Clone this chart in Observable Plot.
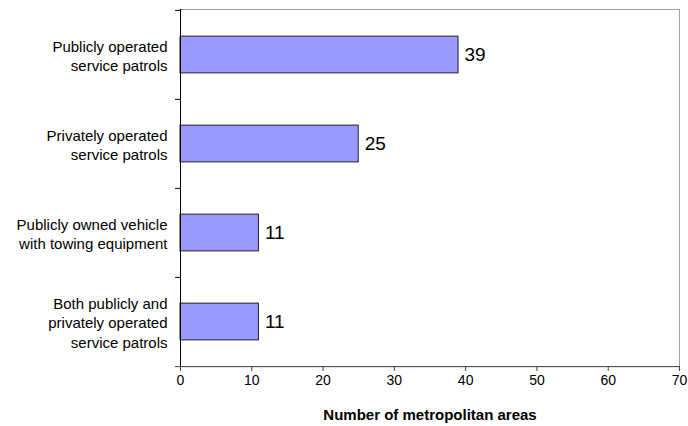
<!DOCTYPE html>
<html>
<head>
<meta charset="utf-8">
<script src="https://cdn.jsdelivr.net/npm/d3@7"></script>
<script src="https://cdn.jsdelivr.net/npm/@observablehq/plot@0.6"></script>
<style>
  html, body { margin: 0; padding: 0; background: #fff; }
  #chart { width: 688px; height: 426px; }
</style>
</head>
<body>
<div id="chart"></div>
<script>
const categories = [
  "Publicly operated\nservice patrols",
  "Privately operated\nservice patrols",
  "Publicly owned vehicle\nwith towing equipment",
  "Both publicly and\nprivately operated\nservice patrols"
];
const values = [39, 25, 11, 11];
const xTicks = [0, 10, 20, 30, 40, 50, 60, 70];
const xLabel = "Number of metropolitan areas";

const data = categories.map((c, i) => ({category: c, value: values[i]}));

const width = 688, height = 426;
const marginTop = 9, marginBottom = 60, marginLeft = 180, marginRight = 9;
const bw = (height - marginTop - marginBottom) / categories.length;
const barH = 37;
const inset = (bw - barH) / 2;

const chart = Plot.plot({
  width, height, marginTop, marginBottom, marginLeft, marginRight,
  style: {fontFamily: "'Liberation Sans', Arial, sans-serif", background: "#fff", color: "#000"},
  x: {domain: [0, 70], ticks: xTicks, label: null},
  y: {domain: categories, padding: 0, label: null},
  marks: [
    Plot.frame({stroke: "#a0a0a0"}),
    Plot.rectX(data, {x: "value", y: "category", fill: "#9999ff", stroke: "#222", strokeWidth: 1, insetTop: inset, insetBottom: inset}),
    Plot.text(data, {x: "value", y: "category", text: d => String(d.value), dx: 6, textAnchor: "start", fontSize: 19, fill: "#000"}),
    Plot.text(data, {y: "category", text: "category", frameAnchor: "left", dx: -13, textAnchor: "end", fontSize: 15, lineHeight: 1.3, fill: "#000"}),
    Plot.axisX({ticks: xTicks, tickSize: 5, tickPadding: 4, fontSize: 14, stroke: "#444", label: null, fill: "#000"}),
    Plot.axisY({ticks: categories, tickSize: 5, dy: -bw / 2, text: null, stroke: "#000", label: null}),
    Plot.axisY({ticks: [categories[categories.length - 1]], tickSize: 5, dy: bw / 2, text: null, stroke: "#444", label: null}),
    Plot.ruleY([0], {y: () => categories[categories.length - 1], dy: bw / 2, stroke: "#444"}),
    Plot.ruleX([0], {stroke: "#000"}),
    Plot.text([xLabel], {text: d => d, frameAnchor: "bottom", dy: 53, fontSize: 15, fontWeight: "bold", fill: "#000"})
  ]
});
document.getElementById("chart").appendChild(chart);
</script>
</body>
</html>
